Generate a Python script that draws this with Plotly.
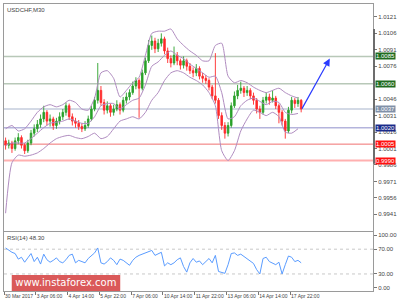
import plotly.graph_objects as go

# ---------------- data ----------------
title_text = "USDCHF,M30"

opens = [1.0008,1.0004,1.0006,1.0001,1.0008,1.0011,1.0004,0.9999,1.0006,1.0015,
         1.0019,1.0023,1.0028,1.0034,1.0026,1.0028,1.0022,1.0026,1.0030,1.0034,
         1.0040,1.0030,1.0026,1.0024,1.0021,1.0019,1.0022,1.0028,1.0037,1.0045,
         1.0054,1.0043,1.0036,1.0040,1.0034,1.0037,1.0041,1.0036,1.0045,1.0048,
         1.0052,1.0058,1.0063,1.0056,1.0070,1.0081,1.0095,1.0099,1.0092,1.0097,
         1.0101,1.0090,1.0083,1.0079,1.0086,1.0081,1.0077,1.0081,1.0076,1.0072,
         1.0070,1.0074,1.0067,1.0065,1.0063,1.0057,1.0049,1.0045,1.0031,1.0022,
         1.0015,1.0022,1.0040,1.0049,1.0054,1.0056,1.0052,1.0054,1.0049,1.0045,
         1.0037,1.0034,1.0045,1.0048,1.0045,1.0047,1.0040,1.0034,1.0026,1.0017,
         1.0036,1.0045,1.0042,1.0045]
highs = [1.0011,1.0009,1.0008,1.0011,1.0015,1.0013,1.0006,1.0009,1.0018,1.0023,
         1.0027,1.0032,1.0040,1.0036,1.0032,1.0030,1.0029,1.0034,1.0037,1.0043,
         1.0042,1.0033,1.0029,1.0027,1.0024,1.0026,1.0031,1.0040,1.0048,1.0079,
         1.0058,1.0046,1.0044,1.0042,1.0041,1.0045,1.0043,1.0048,1.0052,1.0055,
         1.0062,1.0066,1.0065,1.0073,1.0084,1.0100,1.0104,1.0102,1.0101,1.0106,
         1.0103,1.0093,1.0086,1.0094,1.0089,1.0083,1.0085,1.0083,1.0079,1.0075,
         1.0078,1.0076,1.0070,1.0068,1.0065,1.0059,1.0088,1.0047,1.0034,1.0025,
         1.0025,1.0043,1.0053,1.0059,1.0062,1.0058,1.0058,1.0056,1.0052,1.0047,
         1.0040,1.0048,1.0052,1.0051,1.0054,1.0049,1.0042,1.0036,1.0028,1.0039,
         1.0048,1.0047,1.0048,1.0046]
lows = [1.0000,1.0001,0.9997,0.9999,1.0005,1.0001,0.9996,0.9997,1.0004,1.0012,
        1.0016,1.0020,1.0025,1.0022,1.0021,1.0018,1.0019,1.0023,1.0027,1.0031,
        1.0027,1.0022,1.0020,1.0018,1.0016,1.0017,1.0020,1.0026,1.0035,1.0042,
        1.0040,1.0032,1.0033,1.0030,1.0031,1.0035,1.0032,1.0034,1.0042,1.0045,
        1.0050,1.0055,1.0029,1.0054,1.0068,1.0079,1.0091,1.0088,1.0089,1.0094,
        1.0087,1.0079,1.0075,1.0077,1.0077,1.0073,1.0074,1.0072,1.0069,1.0066,
        1.0067,1.0064,1.0061,1.0060,1.0054,1.0046,1.0042,1.0028,1.0018,1.0010,
        1.0012,1.0020,1.0038,1.0046,1.0051,1.0048,1.0049,1.0046,1.0041,1.0033,
        1.0028,1.0032,1.0042,1.0041,1.0043,1.0037,1.0024,1.0022,1.0010,1.0015,
        1.0033,1.0038,1.0039,1.0034]
closes = [1.0004,1.0006,1.0001,1.0008,1.0011,1.0004,0.9999,1.0006,1.0015,1.0019,
          1.0023,1.0028,1.0034,1.0026,1.0028,1.0022,1.0026,1.0030,1.0034,1.0040,
          1.0030,1.0026,1.0024,1.0021,1.0019,1.0022,1.0028,1.0037,1.0045,1.0054,
          1.0043,1.0036,1.0040,1.0034,1.0037,1.0041,1.0036,1.0045,1.0048,1.0052,
          1.0058,1.0063,1.0056,1.0070,1.0081,1.0095,1.0099,1.0092,1.0097,1.0101,
          1.0090,1.0083,1.0079,1.0086,1.0081,1.0077,1.0081,1.0076,1.0072,1.0070,
          1.0074,1.0067,1.0065,1.0063,1.0057,1.0049,1.0045,1.0031,1.0022,1.0015,
          1.0022,1.0040,1.0049,1.0054,1.0056,1.0052,1.0054,1.0049,1.0045,1.0037,
          1.0034,1.0045,1.0048,1.0045,1.0047,1.0040,1.0034,1.0026,1.0017,1.0036,
          1.0045,1.0042,1.0045,1.0037]
bar_index = list(range(len(closes)))

band_index = [0,2,4,6,8,10,12,14,16,18,20,22,24,26,28,30,32,34,36,38,40,42,44,46,
              48,50,52,54,56,58,60,62,64,66,68,70,72,74,76,78,80,82,84,86,88,90,92]
band_upper = [1.0019,1.0022,1.0017,1.0019,1.0026,1.0034,1.0039,1.0041,1.0039,1.0041,
              1.0045,1.0043,1.0037,1.0036,1.0047,1.0070,1.0072,1.0065,1.0048,1.0054,
              1.0061,1.0066,1.0086,1.0106,1.0108,1.0108,1.0110,1.0101,1.0095,1.0090,
              1.0086,1.0081,1.0081,1.0095,1.0097,1.0067,1.0061,1.0063,1.0061,1.0057,
              1.0054,1.0052,1.0054,1.0056,1.0052,1.0049,1.0047]
band_middle = [1.0004,1.0006,1.0006,1.0006,1.0010,1.0015,1.0020,1.0024,1.0025,1.0026,
               1.0028,1.0026,1.0024,1.0024,1.0030,1.0040,1.0042,1.0042,1.0037,1.0041,
               1.0045,1.0047,1.0059,1.0076,1.0080,1.0086,1.0090,1.0086,1.0083,1.0078,
               1.0074,1.0070,1.0066,1.0067,1.0052,1.0028,1.0030,1.0040,1.0045,1.0047,
               1.0044,1.0041,1.0044,1.0043,1.0034,1.0032,1.0033]
band_lower = [0.9942,0.9988,0.9995,0.9994,0.9995,0.9997,1.0001,1.0006,1.0010,1.0012,
              1.0013,1.0011,1.0010,1.0012,1.0015,1.0010,1.0012,1.0019,1.0026,1.0028,
              1.0030,1.0028,1.0034,1.0045,1.0052,1.0063,1.0070,1.0072,1.0070,1.0066,
              1.0063,1.0059,1.0052,1.0040,0.9999,0.9990,0.9999,1.0017,1.0028,1.0036,
              1.0034,1.0031,1.0034,1.0030,1.0016,1.0015,1.0019]

rsi_values = [72,68,65,63,54,57,49,56,63,50,57,46,62,53,49,52,56,50,48,53,
              60,62,48,52,50,48,55,60,64,72,48,46,50,56,52,45,54,52,48,44,
              52,57,60,62,64,66,68,60,62,65,43,48,45,48,53,56,42,33,48,55,
              49,51,45,50,55,48,60,34,33,31,45,63,64,60,62,58,55,50,47,37,
              30,55,57,50,48,45,49,30,45,59,57,50,52,48]
rsi_label = "RSI(14) 48.30"

price_ticks = [1.0121,1.0106,1.0091,1.0076,1.0046,1.0031,1.0016,1.0001,0.9986,0.9971,0.9956,0.9941]
level_prices = [1.0085,1.0060,1.0037,1.0020,1.0005,0.9990]
level_labels = ["1.0085","1.0060","1.0037","1.0020","1.0005","0.9990"]
level_line_colors = ["#b8c8b8","#b8c8b8","#c4ccdc","#b4b4dc","#f07070","#ffb0b0"]
level_line_widths = [1.5,1.5,1.5,1.5,1,2]
level_box_colors = ["#1f6b1f","#1f6b1f","#8090a8","#1a2a8a","#ff1010","#ff1010"]

date_tick_index = [0,10,20,30,40,50,60,70,80,90]
date_labels = ["30 Mar 2017","3 Apr 06:00","4 Apr 14:00","5 Apr 22:00","7 Apr 06:00",
               "10 Apr 14:00","11 Apr 22:00","13 Apr 06:00","14 Apr 14:00","17 Apr 22:00"]

rsi_tick_vals = [92.4,70,30,7.6]
rsi_tick_text = ["100.00","70.00","30.00","0.00"]
rsi_levels = [70,30]

arrow_start = (93, 1.0036)
arrow_end = (102, 1.0083)

# ---------------- figure ----------------
FONT = "Liberation Sans"
fig = go.Figure()

fig.add_trace(go.Candlestick(
    x=bar_index, open=opens, high=highs, low=lows, close=closes,
    increasing=dict(line=dict(color="#2aa02a", width=0.9), fillcolor="#2aa02a"),
    decreasing=dict(line=dict(color="#ff2a2a", width=0.9), fillcolor="#ff2a2a"),
    whiskerwidth=0, xaxis="x", yaxis="y", showlegend=False, hoverinfo="skip"))

for band in (band_upper, band_middle, band_lower):
    fig.add_trace(go.Scatter(x=band_index, y=band, mode="lines",
                             line=dict(color="#b08cc0", width=1, shape="spline", smoothing=0.6),
                             xaxis="x", yaxis="y", showlegend=False, hoverinfo="skip"))

fig.add_trace(go.Scatter(x=bar_index, y=rsi_values, mode="lines",
                         line=dict(color="#5a9cff", width=1),
                         xaxis="x2", yaxis="y2", showlegend=False, hoverinfo="skip"))

shapes = []
for p, c, w in zip(level_prices, level_line_colors, level_line_widths):
    shapes.append(dict(type="line", xref="paper", x0=0, x1=1, yref="y", y0=p, y1=p,
                       line=dict(color=c, width=w), layer="below"))
for v in rsi_levels:
    shapes.append(dict(type="line", xref="paper", x0=0, x1=1, yref="y2", y0=v, y1=v,
                       line=dict(color="#c8c8c8", width=1, dash="dot"), layer="below"))
# darker segment on right price scale
shapes.append(dict(type="line", xref="paper", x0=1.003, x1=1.003, yref="y", y0=0.9987, y1=1.0110,
                   line=dict(color="#555555", width=1.5)))
# watermark box
shapes.append(dict(type="rect", xref="paper", yref="paper", x0=0.021, x1=0.315, y0=0.0, y1=0.056,
                   fillcolor="rgba(215,75,75,0.92)", line=dict(width=0)))

annotations = []
for p, t, c in zip(level_prices, level_labels, level_box_colors):
    annotations.append(dict(xref="paper", x=1, xanchor="left", xshift=2, yref="y", y=p,
                            text=t, showarrow=False, bgcolor=c, borderpad=0,
                            font=dict(family=FONT, size=6, color="white")))
annotations.append(dict(xref="paper", x=0.003, xanchor="left", yref="paper", y=0.995, yanchor="top",
                        text=title_text, showarrow=False, font=dict(family=FONT, size=6, color="#444")))
annotations.append(dict(xref="paper", x=0.003, xanchor="left", yref="paper", y=0.203, yanchor="top",
                        text=rsi_label, showarrow=False, font=dict(family=FONT, size=6, color="#444")))
annotations.append(dict(xref="x", x=arrow_end[0], yref="y", y=arrow_end[1],
                        axref="x", ax=arrow_start[0], ayref="y", ay=arrow_start[1],
                        text="", showarrow=True, arrowhead=2, arrowsize=1.2, arrowwidth=1.2,
                        arrowcolor="#2b3cff"))
annotations.append(dict(xref="paper", x=0.168, xanchor="center", yref="paper", y=0.028, yanchor="middle",
                        text="[  www.instaforex.com  ]", showarrow=False,
                        font=dict(family="DejaVu Sans", size=10, color="white")))

axis_font = dict(family=FONT, size=6, color="#444")
date_font = dict(family=FONT, size=5, color="#444")
fig.update_layout(
    width=400, height=302, margin=dict(l=4, r=21, t=3, b=11),
    paper_bgcolor="white", plot_bgcolor="white",
    shapes=shapes, annotations=annotations,
    xaxis=dict(domain=[0, 1], anchor="y", range=[-0.5, 115.6], showticklabels=False,
               showgrid=False, zeroline=False, showline=True, mirror=True, linecolor="#9a9a9a",
               linewidth=1, rangeslider=dict(visible=False), ticks=""),
    yaxis=dict(domain=[0.208, 1], anchor="x", side="right", range=[0.99255, 1.01328],
               tickvals=price_ticks, ticktext=["%.4f" % v for v in price_ticks],
               ticks="outside", ticklen=3, tickcolor="#777", tickfont=axis_font,
               showgrid=False, zeroline=False, showline=True, mirror=True, linecolor="#9a9a9a"),
    xaxis2=dict(domain=[0, 1], anchor="y2", matches="x", range=[-0.5, 115.6],
                tickvals=[t - 0.5 for t in date_tick_index], ticktext=date_labels,
                ticks="outside", ticklen=3, tickcolor="#777", tickfont=date_font,
                ticklabelposition="outside right", tickangle=0,
                showgrid=False, zeroline=False, showline=True, mirror=True, linecolor="#9a9a9a"),
    yaxis2=dict(domain=[0, 0.205], anchor="x2", side="right", range=[2.5, 97.5],
                tickvals=rsi_tick_vals, ticktext=rsi_tick_text,
                ticks="outside", ticklen=3, tickcolor="#777", tickfont=axis_font,
                showgrid=False, zeroline=False, showline=True, mirror=True, linecolor="#9a9a9a"),
)

fig.write_html("out.html")
